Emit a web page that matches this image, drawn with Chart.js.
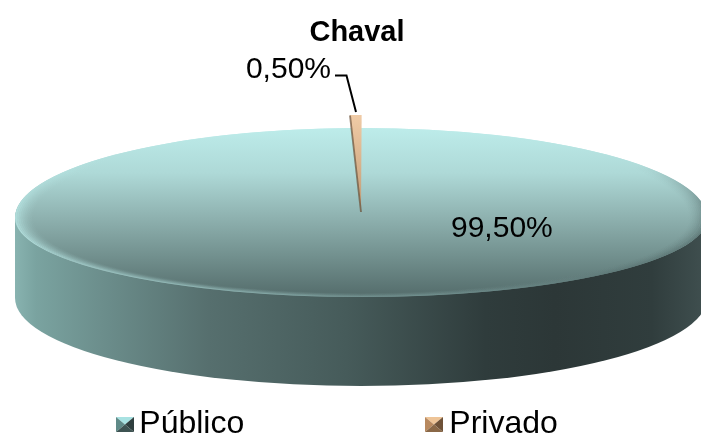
<!DOCTYPE html>
<html>
<head>
<meta charset="utf-8">
<style>
html,body{margin:0;padding:0;background:#fff;overflow:hidden}
#wrap{position:relative;width:701px;height:437px}
</style>
<script src="https://cdn.jsdelivr.net/npm/chart.js@4"></script>
</head>
<body>
<div id="wrap"><canvas id="c" width="701" height="437"></canvas></div>
<script>
const chartTitle = 'Chaval';
const categories = ['Público', 'Privado'];
const values = [99.5, 0.5];
const valueLabels = ['99,50%', '0,50%'];

const FONT = '"Liberation Sans", Arial, sans-serif';
const face = {x: 361, y: 218, rx: 346, ryTop: 90, ryBottom: 79};
const wall = {y: 298, ry: 88};
const wedge = {x: 361, y: 212, rx: 372, ry: 97};

function pieBox(chart) {
  const a = chart.chartArea;
  return {y: (a.top + a.bottom) / 2, r: Math.min(a.right - a.left, a.bottom - a.top) / 2};
}
function faceGradient(chart) {
  const b = pieBox(chart);
  const g = chart.ctx.createLinearGradient(0, b.y - b.r, 0, b.y + b.r);
  g.addColorStop(0, '#bdecea');
  g.addColorStop(0.25, '#aed9d7');
  g.addColorStop(0.5, '#8eb1af');
  g.addColorStop(0.75, '#718f8d');
  g.addColorStop(1, '#546c6b');
  return g;
}
function wedgeGradient(chart) {
  const b = pieBox(chart);
  const g = chart.ctx.createLinearGradient(0, b.y - b.r, 0, b.y);
  g.addColorStop(0, '#f0cba6');
  g.addColorStop(1, '#c09a74');
  return g;
}

const piePlugin = {
  id: 'tiltedPie',
  beforeDatasetsDraw(chart) {
    const ctx = chart.ctx;
    const arcs = chart.getDatasetMeta(0).data;
    const pub = arcs[0], pri = arcs[1];
    const R = pub.outerRadius;

    // side wall
    ctx.save();
    const wg = ctx.createLinearGradient(face.x - face.rx, 0, face.x + face.rx, 0);
    wg.addColorStop(0, '#88b3b0');
    wg.addColorStop(0.03, '#7aa3a0');
    wg.addColorStop(0.13, '#6b8d8b');
    wg.addColorStop(0.28, '#566f6e');
    wg.addColorStop(0.48, '#465b5a');
    wg.addColorStop(0.68, '#2f3c3c');
    wg.addColorStop(0.78, '#2c3737');
    wg.addColorStop(0.92, '#303d3d');
    wg.addColorStop(1, '#405050');
    ctx.fillStyle = wg;
    ctx.beginPath();
    ctx.ellipse(face.x, wall.y, face.rx, wall.ry, 0, 0, Math.PI);
    ctx.lineTo(face.x - face.rx, face.y);
    ctx.lineTo(face.x + face.rx, face.y);
    ctx.closePath();
    ctx.fill();
    ctx.restore();

    // top face, in two halves
    const halves = [
      {ry: face.ryTop, top: 0, h: face.y},
      {ry: face.ryBottom, top: face.y, h: chart.height - face.y}
    ];
    const light = ctx.createConicGradient(0, pub.x, pub.y);
    [[0, 0], [0.25, 0.45], [0.33, 0.9], [0.45, 1], [0.52, 0.9], [0.62, 0], [1, 0]]
      .forEach(s => light.addColorStop(s[0], 'rgba(190,238,236,' + s[1] + ')'));
    const dark = ctx.createConicGradient(0, pub.x, pub.y);
    [[0, 0.55], [0.12, 0.5], [0.22, 0], [0.9, 0], [1, 0.55]]
      .forEach(s => dark.addColorStop(s[0], 'rgba(50,66,66,' + s[1] + ')'));
    halves.forEach(hf => {
      ctx.save();
      ctx.beginPath();
      ctx.rect(0, hf.top, chart.width, hf.h);
      ctx.clip();
      ctx.translate(face.x, face.y);
      ctx.scale(face.rx / R, hf.ry / R);
      ctx.translate(-pub.x, -pub.y);
      ctx.fillStyle = faceGradient(chart);
      ctx.beginPath();
      ctx.arc(pub.x, pub.y, R, 0, Math.PI * 2);
      ctx.fill();
      pub.draw(ctx);
      // bevel
      const steps = 10;
      for (let i = 0; i < steps; i++) {
        const t = (i + 0.5) / steps;
        const r = R * (0.945 + 0.055 * t);
        ctx.lineWidth = R * 0.0056;
        ctx.globalAlpha = Math.pow(t, 1.6) * 0.8;
        ctx.strokeStyle = light;
        ctx.beginPath(); ctx.arc(pub.x, pub.y, r, 0, Math.PI * 2); ctx.stroke();
        ctx.strokeStyle = dark;
        ctx.beginPath(); ctx.arc(pub.x, pub.y, r, 0, Math.PI * 2); ctx.stroke();
      }
      ctx.restore();
    });

    // raised thin slice
    ctx.save();
    ctx.translate(wedge.x, wedge.y);
    ctx.scale(wedge.rx / R, wedge.ry / R);
    ctx.translate(-pri.x, -pri.y);
    pri.draw(ctx);
    ctx.strokeStyle = 'rgba(105,80,55,0.7)';
    ctx.lineWidth = R * 0.005;
    ctx.beginPath();
    ctx.moveTo(pri.x, pri.y);
    ctx.lineTo(pri.x + R * Math.cos(pri.startAngle) * 0.995, pri.y + R * Math.sin(pri.startAngle) * 0.995);
    ctx.stroke();
    ctx.restore();
    return false;
  },
  afterDraw(chart) {
    const ctx = chart.ctx;
    ctx.save();
    // value labels and leader line
    ctx.fillStyle = '#000';
    ctx.font = '30px ' + FONT;
    ctx.textBaseline = 'alphabetic';
    ctx.textAlign = 'left';
    ctx.fillText(valueLabels[0], 451, 237);
    ctx.textAlign = 'right';
    ctx.fillText(valueLabels[1], 331, 78);
    ctx.strokeStyle = '#000';
    ctx.lineWidth = 2;
    ctx.beginPath();
    ctx.moveTo(335, 75.5);
    ctx.lineTo(346.5, 75.5);
    ctx.lineTo(356, 112);
    ctx.stroke();

    // legend
    const items = [
      {x: 116, tx: 139.3, c: ['#a8e2e2', '#5f8a88', '#2f3f3f', '#3e5352']},
      {x: 425, tx: 449.3, c: ['#eec497', '#b8895f', '#6f5238', '#8a6847']}
    ];
    const w = 18, h = 15, top = 417;
    items.forEach((it, i) => {
      const cx = it.x + w / 2, cy = top + h / 2;
      const corners = [[it.x, top], [it.x + w, top], [it.x + w, top + h], [it.x, top + h]];
      [[0, 1, 0], [3, 0, 1], [1, 2, 2], [2, 3, 3]].forEach(t => {
        ctx.fillStyle = it.c[t[2]];
        ctx.beginPath();
        ctx.moveTo(corners[t[0]][0], corners[t[0]][1]);
        ctx.lineTo(corners[t[1]][0], corners[t[1]][1]);
        ctx.lineTo(cx, cy);
        ctx.closePath();
        ctx.fill();
      });
      ctx.fillStyle = '#000';
      ctx.font = '32px ' + FONT;
      ctx.textAlign = 'left';
      ctx.fillText(categories[i], it.tx, 433);
    });
    ctx.restore();
  }
};

new Chart(document.getElementById('c'), {
  type: 'pie',
  data: {
    labels: categories,
    datasets: [{
      data: values,
      borderWidth: 0,
      clip: false,
      backgroundColor(c) {
        if (!c.chart.chartArea) return '#8eb1af';
        return c.dataIndex === 0 ? faceGradient(c.chart) : wedgeGradient(c.chart);
      }
    }]
  },
  options: {
    responsive: false,
    animation: false,
    rotation: 0.1,
    layout: {padding: {left: 13, bottom: 40}},
    plugins: {
      legend: {display: false},
      tooltip: {enabled: false},
      title: {
        display: true,
        text: chartTitle,
        color: '#000',
        font: {family: FONT, size: 29, weight: 'bold'},
        padding: {top: 16, bottom: 4}
      }
    }
  },
  plugins: [piePlugin]
});
</script>
</body>
</html>
